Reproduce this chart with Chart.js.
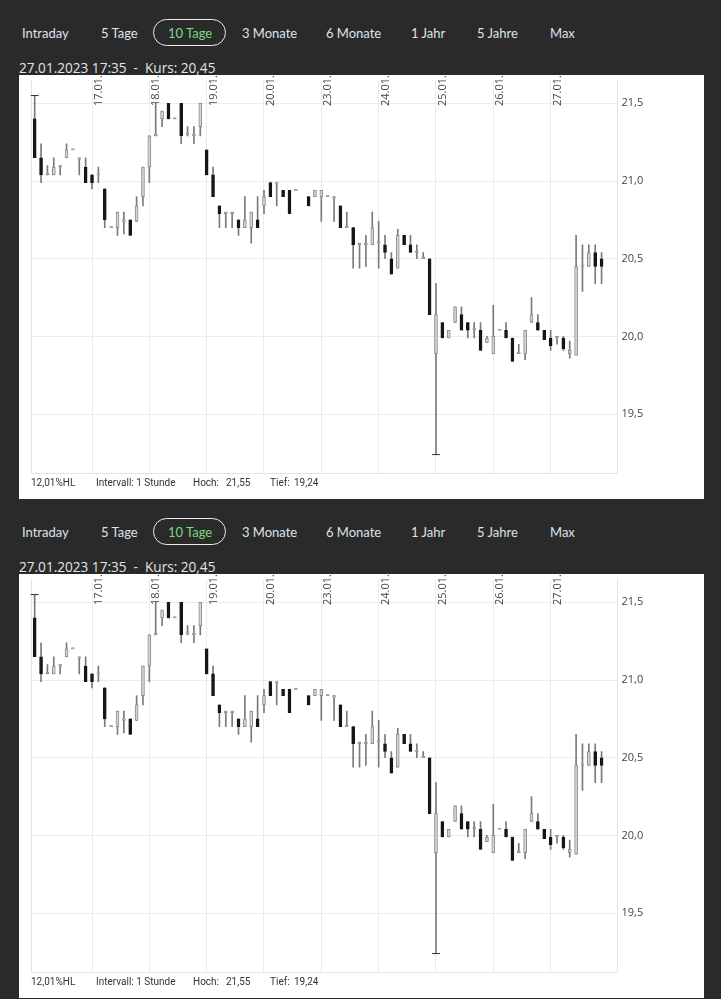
<!DOCTYPE html>
<html><head><meta charset="utf-8">
<script src="https://cdn.jsdelivr.net/npm/chart.js@4.4.0/dist/chart.umd.min.js"></script>
<style>
html,body{margin:0;padding:0;background:#2a2a2a;width:721px;height:999px;overflow:hidden;}
.panel{position:absolute;left:0;width:721px;height:499px;}
.tab{position:absolute;top:25px;font:13px Lato, sans-serif;color:#dde3e8;line-height:16px;white-space:nowrap;}
.tab.active{color:#7ed87e;}
.pill{position:absolute;left:153px;top:19px;width:71px;height:25px;border:1.5px solid #eeeeee;border-radius:14px;}
.info{position:absolute;left:19px;top:60px;font:13.6px "Open Sans", sans-serif;color:#e4e4e4;line-height:16px;white-space:pre;}
.box{position:absolute;left:19px;top:75px;width:685px;height:424px;background:#fff;}
.box canvas{position:absolute;left:0;top:0;}
.foot{position:absolute;top:401px;font:10px Roboto,sans-serif;color:#333;white-space:pre;line-height:14px;}
</style></head>
<body>
<script>
// ---------- data ----------
const days = ['16.01','17.01','18.01','19.01','20.01','23.01','24.01','25.01','26.01','27.01'];
const hours = ['09:00','10:00','11:00','12:00','13:00','14:00','15:00','16:00','17:00'];
const open  = [21.40,21.15,21.04,21.04,21.09,21.15,21.20,21.14,21.09,
               21.04,21.04,20.95,20.70,20.70,20.74,20.75,20.74,20.90,
               21.09,21.29,21.40,21.50,21.40,21.50,21.30,21.29,21.35,
               21.20,21.04,20.84,20.79,20.79,20.75,20.70,20.70,20.75,
               20.84,20.99,20.98,20.94,20.94,20.94,null,20.90,20.90,
               20.90,20.90,20.89,20.84,20.70,20.70,20.59,20.59,20.59,
               20.60,20.59,20.50,20.44,20.65,20.59,20.54,20.50,20.50,
               19.89,20.09,19.99,20.09,20.14,20.09,20.04,20.04,19.96,
               19.89,20.04,20.04,19.99,19.89,19.89,20.09,20.09,20.04,
               19.99,19.99,19.99,19.89,19.88,20.45,20.45,20.54,20.50];
const high  = [21.55,21.24,21.10,21.15,21.10,21.24,21.20,21.15,21.15,
               21.04,21.09,20.95,20.70,20.80,20.80,20.75,20.90,21.09,
               21.29,21.50,21.45,21.50,21.40,21.50,21.35,21.35,21.50,
               21.20,21.09,20.84,20.80,20.80,20.75,20.90,20.80,20.90,
               20.94,20.99,20.99,20.94,20.94,20.94,null,20.90,20.94,
               20.94,20.90,20.90,20.84,20.80,20.70,20.60,20.65,20.80,
               20.74,20.65,20.54,20.69,20.65,20.65,20.59,20.54,20.50,
               20.34,20.09,20.04,20.19,20.19,20.09,20.09,20.09,20.00,
               20.20,20.04,20.09,19.99,19.95,20.04,20.25,20.14,20.04,
               20.04,20.00,20.00,19.97,20.65,20.59,20.59,20.59,20.54];
const low   = [21.15,20.99,21.04,21.04,21.04,21.15,21.20,21.04,20.99,
               20.95,20.99,20.70,20.70,20.65,20.66,20.65,20.74,20.84,
               20.99,21.29,21.35,21.40,21.40,21.24,21.29,21.24,21.29,
               21.04,20.90,20.70,20.70,20.70,20.65,20.70,20.60,20.70,
               20.79,20.90,20.84,20.90,20.79,20.94,null,20.84,20.90,
               20.74,20.90,20.74,20.70,20.70,20.44,20.44,20.45,20.59,
               20.44,20.50,20.40,20.44,20.59,20.54,20.50,20.50,20.14,
               19.24,19.99,19.99,20.09,20.04,19.99,19.99,19.91,19.96,
               19.89,20.04,19.99,19.84,19.89,19.85,20.09,20.04,19.98,
               19.91,19.95,19.91,19.86,19.88,20.29,20.45,20.34,20.34];
const close = [21.15,21.04,21.05,21.09,21.10,21.20,21.20,21.15,20.99,
               20.99,21.04,20.75,20.70,20.80,20.75,20.65,20.84,21.09,
               21.29,21.30,21.45,21.40,21.40,21.29,21.31,21.30,21.50,
               21.04,20.90,20.79,20.80,20.80,20.70,20.75,20.80,20.70,
               20.90,20.90,20.99,20.90,20.79,20.94,null,20.84,20.94,
               20.94,20.90,20.90,20.70,20.71,20.59,20.60,20.60,20.70,
               20.61,20.54,20.40,20.65,20.59,20.54,20.55,20.51,20.14,
               20.14,19.99,20.04,20.19,20.04,20.04,20.05,19.91,19.99,
               20.00,20.04,19.99,19.84,19.90,20.04,20.14,20.04,19.98,
               19.94,20.00,19.92,19.91,20.45,20.45,20.54,20.45,20.45];
const yTicks = [19.5, 20.0, 20.5, 21.0, 21.5];
const yTickLabels = ['19,5','20,0','20,5','21,0','21,5'];
const tabs = ['Intraday','5 Tage','10 Tage','3 Monate','6 Monate','1 Jahr','5 Jahre','Max'];
const infoText = '27.01.2023 17:35  -  Kurs: 20,45';
const footTexts = ['12,01%HL','Intervall: 1 Stunde','Hoch:','21,55','Tief:','19,24'];

// ---------- derived ----------
const labels = [];
days.forEach(d => hours.forEach(h => labels.push(d + ' ' + h)));
labels.push('', '');
const bodies = open.map((o, i) => o == null ? null : [Math.min(o, close[i]), Math.max(o, close[i])]);
const wicks = low.map((l, i) => l == null ? null : [l, high[i]]);
const hiVal = Math.max(...high.filter(v => v != null));
const loVal = Math.min(...low.filter(v => v != null));
const extremes = high.map((h, i) => h === hiVal ? h : (low[i] === loVal ? low[i] : null));

Chart.defaults.font.family = '"Open Sans", sans-serif';
Chart.defaults.font.size = 11;
Chart.defaults.color = '#444';

const deco = {
  id: 'deco',
  beforeDatasetsDraw(chart) {
    const a = chart.chartArea, c = chart.ctx, xs = chart.scales.x;
    c.save();
    c.strokeStyle = '#e4e4e4'; c.lineWidth = 1;
    c.beginPath();
    c.moveTo(Math.round(a.left) - 0.5, Math.round(a.top));
    c.lineTo(Math.round(a.left) - 0.5, Math.round(a.bottom) - 0.5);
    c.lineTo(Math.round(a.right) - 0.5, Math.round(a.bottom) - 0.5);
    c.lineTo(Math.round(a.right) - 0.5, Math.round(a.top));
    c.stroke();
    c.fillStyle = '#444';
    c.font = '11px "Open Sans", sans-serif';
    c.textAlign = 'left'; c.textBaseline = 'top';
    for (let d = 1; d < days.length; d++) {
      const x = xs.getPixelForValue(d * hours.length);
      c.save();
      c.translate(x + 1.5, a.top + 26);
      c.rotate(-Math.PI / 2);
      c.fillText(days[d] + '.', 0, 0);
      c.restore();
    }
    c.restore();
  }
};

function makeChart(canvas) {
  return new Chart(canvas, {
    type: 'bar',
    data: {
      labels: labels,
      datasets: [
        { type: 'line', data: extremes, showLine: false, pointStyle: 'line', pointRadius: 4,
          pointBorderWidth: 1, pointBorderColor: '#333', pointBackgroundColor: '#333', order: 0 },
        { data: bodies, barThickness: 3, minBarLength: 1, grouped: false, borderSkipped: false, borderWidth: 1,
          backgroundColor: ctx => (close[ctx.dataIndex] < open[ctx.dataIndex]) ? '#161616' : '#d6d6d6',
          borderColor: ctx => (close[ctx.dataIndex] < open[ctx.dataIndex]) ? '#161616' : '#8c8c8c', order: 1 },
        { data: wicks, barThickness: 1, minBarLength: 1, grouped: false, borderWidth: 0,
          backgroundColor: '#7a7a7a', order: 2 }
      ]
    },
    options: {
      responsive: false, animation: false, devicePixelRatio: 1,
      layout: { padding: { left: 12.5, top: 2.6, right: 0, bottom: 2 } },
      plugins: { legend: { display: false }, tooltip: { enabled: false } },
      scales: {
        x: {
          type: 'category', offset: true,
          ticks: { display: false, autoSkip: false },
          grid: { offset: false, drawTicks: false,
                  color: ctx => (ctx.index > 0 && ctx.index % hours.length === 0 && ctx.index < open.length) ? '#ebebeb' : 'rgba(0,0,0,0)' },
          border: { display: false },
          afterFit: s => { s.height = 0; s.paddingLeft = 0; s.paddingRight = 0; s.paddingTop = 0; s.paddingBottom = 0; }
        },
        y: {
          position: 'right', min: 19.115, max: 21.65,
          afterBuildTicks: s => { s.ticks = yTicks.map(v => ({ value: v })); },
          ticks: { padding: 4, color: '#444', font: { size: 11 },
                   callback: (v) => { const k = yTicks.indexOf(v); return k >= 0 ? yTickLabels[k] : ''; } },
          grid: { color: '#ececec', drawTicks: false },
          border: { display: false },
          afterFit: s => { s.width = 86.5; s.paddingTop = 0; s.paddingBottom = 0; }
        }
      }
    },
    plugins: [deco]
  });
}

function buildPanel(top) {
  const p = document.createElement('div');
  p.className = 'panel'; p.style.top = top + 'px';
  const tabLeft = [22, 101, 168, 242, 326, 411, 477, 550];
  const pill = document.createElement('div'); pill.className = 'pill'; p.appendChild(pill);
  tabs.forEach((t, i) => {
    const s = document.createElement('span');
    s.className = 'tab' + (i === 2 ? ' active' : '');
    s.style.left = tabLeft[i] + 'px'; s.textContent = t; p.appendChild(s);
  });
  const info = document.createElement('div'); info.className = 'info'; info.textContent = infoText; p.appendChild(info);
  const box = document.createElement('div'); box.className = 'box'; p.appendChild(box);
  const cv = document.createElement('canvas'); cv.width = 685; cv.height = 404;
  cv.style.width = '685px'; cv.style.height = '404px'; box.appendChild(cv);
  const footLeft = [12, 77, 174, 207, 251, 275];
  footTexts.forEach((t, i) => {
    const f = document.createElement('div'); f.className = 'foot';
    f.style.left = footLeft[i] + 'px'; f.textContent = t; box.appendChild(f);
  });
  document.body.appendChild(p);
  makeChart(cv);
}
buildPanel(0);
buildPanel(499);
</script>
</body></html>
